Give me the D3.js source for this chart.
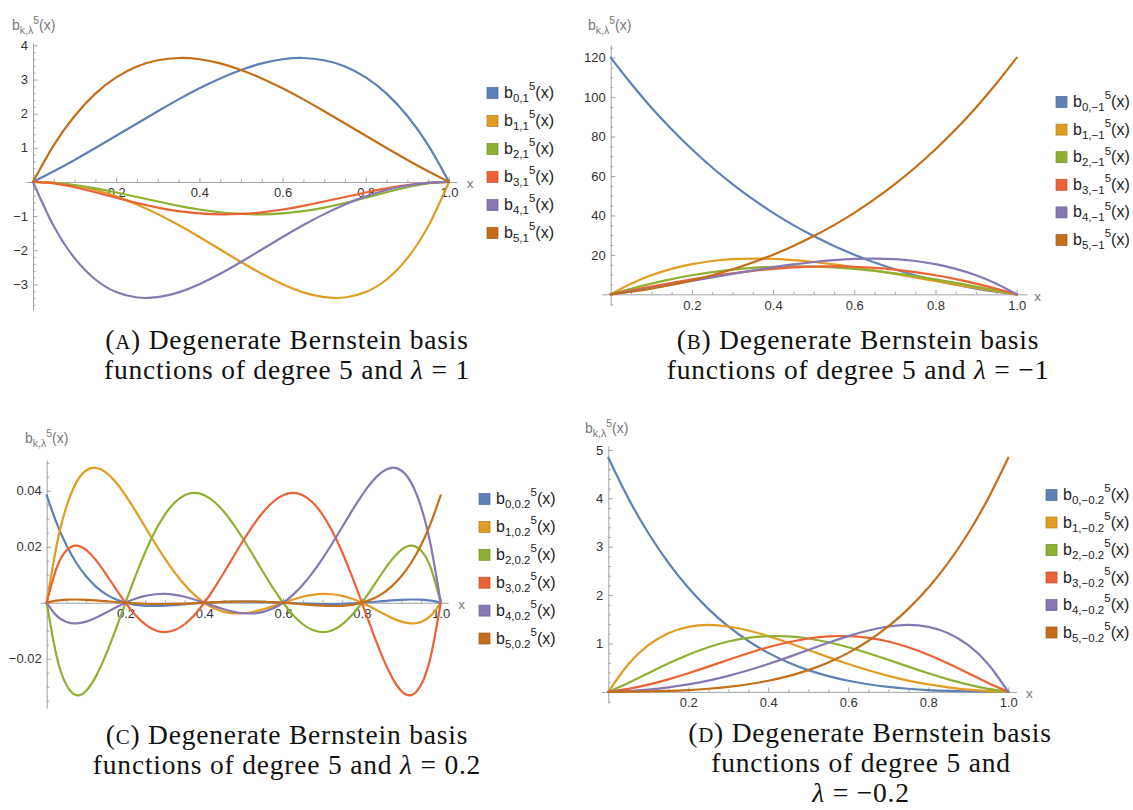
<!DOCTYPE html>
<html><head><meta charset="utf-8">
<script src="https://cdn.jsdelivr.net/npm/d3@7"></script>
<style>body{margin:0;background:#fff}svg{display:block}</style>
</head><body>
<svg id="chart" width="1133" height="810"></svg>
<script>
// ---------- data ----------
const X21 = [0,0.05,0.1,0.15,0.2,0.25,0.3,0.35,0.4,0.45,0.5,0.55,0.6,0.65,0.7,0.75,0.8,0.85,0.9,0.95,1];
const X41 = [0,0.025,0.05,0.075,0.1,0.125,0.15,0.175,0.2,0.225,0.25,0.275,0.3,0.325,0.35,0.375,0.4,0.425,0.45,0.475,0.5,0.525,0.55,0.575,0.6,0.625,0.65,0.675,0.7,0.725,0.75,0.775,0.8,0.825,0.85,0.875,0.9,0.925,0.95,0.975,1];

// (A) lambda = 1
const A_b0 = [0,0.312,0.6445,0.993,1.352,1.714,2.072,2.418,2.742,3.033,3.281,3.473,3.594,3.631,3.566,3.384,3.064,2.588,1.934,1.079,0];
const A_b1 = [0,-0.0256,-0.104,-0.236,-0.4224,-0.659,-0.942,-1.263,-1.613,-1.978,-2.344,-2.690,-2.995,-3.233,-3.374,-3.384,-3.226,-2.857,-2.232,-1.298,0];
const A_b2 = [0,-0.0237,-0.0891,-0.187,-0.3072,-0.439,-0.573,-0.699,-0.806,-0.888,-0.9375,-0.949,-0.922,-0.854,-0.750,-0.615,-0.461,-0.301,-0.154,-0.044,0];
const A_b3 = [0,-0.044,-0.154,-0.301,-0.461,-0.615,-0.750,-0.854,-0.922,-0.949,-0.9375,-0.888,-0.806,-0.699,-0.573,-0.439,-0.3072,-0.187,-0.0891,-0.0237,0];
const A_b4 = [0,-1.298,-2.232,-2.857,-3.226,-3.384,-3.374,-3.233,-2.995,-2.690,-2.344,-1.978,-1.613,-1.263,-0.942,-0.659,-0.4224,-0.236,-0.104,-0.0256,0];
const A_b5 = [0,1.079,1.934,2.588,3.064,3.384,3.566,3.631,3.594,3.473,3.281,3.033,2.742,2.418,2.072,1.714,1.352,0.993,0.6445,0.312,0];

// (B) lambda = -1
const B_b0 = [120,106.85,94.77,83.68,73.54,64.29,55.87,48.24,41.33,35.11,29.53,24.54,20.11,16.18,12.73,9.712,7.096,4.848,2.936,1.329,0];
const B_b1 = [0,5.397,9.670,12.941,15.322,16.919,17.832,18.154,17.971,17.364,16.406,15.167,13.709,12.089,10.360,8.569,6.758,4.965,3.223,1.559,0];
const B_b2 = [0,2.869,5.455,7.731,9.677,11.279,12.531,13.429,13.978,14.185,14.063,13.628,12.902,11.909,10.674,9.229,7.603,5.832,3.950,1.994,0];
const B_b3 = [0,1.994,3.950,5.832,7.603,9.229,10.674,11.909,12.902,13.628,14.063,14.185,13.978,13.429,12.531,11.279,9.677,7.731,5.455,2.869,0];
const B_b4 = [0,1.559,3.223,4.965,6.758,8.569,10.360,12.089,13.709,15.167,16.406,17.364,17.971,18.154,17.832,16.919,15.322,12.941,9.670,5.397,0];
const B_b5 = [0,1.329,2.936,4.848,7.096,9.712,12.73,16.18,20.11,24.54,29.53,35.11,41.33,48.24,55.87,64.29,73.54,83.68,94.77,106.85,120];

// (C) lambda = 0.2
const C_b0 = [0.0384,0.028513,0.020573,0.014303,0.00945,0.005786,0.003108,0.001233,0,-0.000731,-0.001083,-0.001160,-0.00105,-0.000827,-0.000548,-0.000261,0,0.000212,0.000361,0.000440,0.00045,0.000398,0.000295,0.000157,0,-0.000157,-0.000295,-0.000398,-0.00045,-0.000440,-0.000361,-0.000212,0,0.000261,0.000548,0.000827,0.00105,0.001160,0.001083,0.000731,0];
const C_b1 = [0,0.020366,0.034289,0.042910,0.04725,0.048219,0.046617,0.043143,0.0384,0.032900,0.027070,0.021261,0.01575,0.010746,0.006398,0.002802,0,-0.002005,-0.003248,-0.003799,-0.00375,-0.003215,-0.002320,-0.001203,0,0.001154,0.002133,0.002828,0.00315,0.003037,0.002461,0.001430,0,-0.001726,-0.003586,-0.005358,-0.00675,-0.007398,-0.006858,-0.004599,0];
const C_b2 = [0,-0.019009,-0.029391,-0.033007,-0.0315,-0.026301,-0.018647,-0.009587,0,0.009400,0.018047,0.025514,0.0315,0.035820,0.038391,0.039221,0.0384,0.036084,0.032484,0.027860,0.0225,0.016716,0.010828,0.005155,0,-0.004358,-0.007678,-0.009769,-0.0105,-0.009813,-0.007734,-0.004387,0,0.005076,0.010359,0.015227,0.0189,0.020433,0.018703,0.012397,0];
const C_b3 = [0,0.012397,0.018703,0.020433,0.0189,0.015227,0.010359,0.005076,0,-0.004387,-0.007734,-0.009813,-0.0105,-0.009769,-0.007678,-0.004358,0,0.005155,0.010828,0.016716,0.0225,0.027860,0.032484,0.036084,0.0384,0.039221,0.038391,0.035820,0.0315,0.025514,0.018047,0.009400,0,-0.009587,-0.018647,-0.026301,-0.0315,-0.033007,-0.029391,-0.019009,0];
const C_b4 = [0,-0.004599,-0.006858,-0.007398,-0.00675,-0.005358,-0.003586,-0.001726,0,0.001430,0.002461,0.003037,0.00315,0.002828,0.002133,0.001154,0,-0.001203,-0.002320,-0.003215,-0.00375,-0.003799,-0.003248,-0.002005,0,0.002802,0.006398,0.010746,0.01575,0.021261,0.027070,0.032900,0.0384,0.043143,0.046617,0.048219,0.04725,0.042910,0.034289,0.020366,0];
const C_b5 = [0,0.000731,0.001083,0.001160,0.00105,0.000827,0.000548,0.000261,0,-0.000212,-0.000361,-0.000440,-0.00045,-0.000398,-0.000295,-0.000157,0,0.000157,0.000295,0.000398,0.00045,0.000440,0.000361,0.000212,0,-0.000261,-0.000548,-0.000827,-0.00105,-0.001160,-0.001083,-0.000731,0,0.001233,0.003108,0.005786,0.00945,0.014303,0.020573,0.028513,0.0384];

// (D) lambda = -0.2
const D_b0 = [4.838,4.001,3.282,2.669,2.150,1.715,1.351,1.051,0.806,0.608,0.450,0.326,0.230,0.158,0.104,0.065,0.038,0.021,0.009,0.003,0];
const D_b1 = [0,0.572,0.965,1.213,1.344,1.383,1.351,1.269,1.152,1.014,0.866,0.718,0.576,0.446,0.331,0.233,0.154,0.092,0.047,0.017,0];
const D_b2 = [0,0.184,0.386,0.586,0.768,0.922,1.040,1.117,1.152,1.146,1.103,1.026,0.922,0.798,0.662,0.521,0.384,0.258,0.149,0.061,0];
const D_b3 = [0,0.061,0.149,0.258,0.384,0.521,0.662,0.798,0.922,1.026,1.103,1.146,1.152,1.117,1.040,0.922,0.768,0.586,0.386,0.184,0];
const D_b4 = [0,0.017,0.047,0.092,0.154,0.233,0.331,0.446,0.576,0.718,0.866,1.014,1.152,1.269,1.351,1.383,1.344,1.213,0.965,0.572,0];
const D_b5 = [0,0.003,0.009,0.021,0.038,0.065,0.104,0.158,0.230,0.326,0.450,0.608,0.806,1.051,1.351,1.715,2.150,2.669,3.282,4.001,4.838];

// tick labels / legend text
const xTicks = [0.2,0.4,0.6,0.8,1.0];
const yTicksA = [-3,-2,-1,1,2,3,4];
const yTicksB = [20,40,60,80,100,120];
const yTicksC = [-0.02,0.02,0.04];
const yTicksD = [1,2,3,4,5];
const lamA = "1", lamB = "\u22121", lamC = "0.2", lamD = "\u22120.2";
const captionA = ["A", "Degenerate Bernstein basis", "functions of degree 5 and ", "\u03bb", " = 1"];
const captionB = ["B", "Degenerate Bernstein basis", "functions of degree 5 and ", "\u03bb", " = \u22121"];
const captionC = ["C", "Degenerate Bernstein basis", "functions of degree 5 and ", "\u03bb", " = 0.2"];
const captionD = ["D", "Degenerate Bernstein basis", "functions of degree 5 and", "\u03bb", " = \u22120.2"];

const colors = ["#5E81B5","#E19C24","#8FB032","#EB6235","#8778B3","#C56E1A"];

// ---------- layout ----------
const SANS = "'Liberation Sans', Arial, Helvetica, sans-serif";
const SERIF = "'Liberation Serif', 'Times New Roman', serif";
const panels = [
  {xs:X21, series:[A_b0,A_b1,A_b2,A_b3,A_b4,A_b5], lam:lamA, yTicks:yTicksA, yMinor:0.2,
   px:[33,449], xExt:[-0.017,1.019], yDom:[-3.75,4.07], yRng:[310,43],
   leg:{x:487,y:93,dy:28}, ylab:{x:12,y:30}, cap:{x:287,x1:287,y:349,txt:captionA}},
  {xs:X21, series:[B_b0,B_b1,B_b2,B_b3,B_b4,B_b5], lam:lamB, yTicks:yTicksB, yMinor:5,
   px:[610.7,1016.7], xExt:[-0.022,1.025], yDom:[-5.4,126.4], yRng:[305,45],
   leg:{x:1056,y:102,dy:27.6}, ylab:{x:588,y:30}, cap:{x:858,x1:858,y:349,txt:captionB}},
  {xs:X41, series:[C_b0,C_b1,C_b2,C_b3,C_b4,C_b5], lam:lamC, yTicks:yTicksC, yMinor:0.005,
   px:[46.7,440.7], xExt:[-0.017,1.019], yDom:[-0.0376,0.051], yRng:[708,460],
   leg:{x:479,y:499,dy:27.9}, ylab:{x:25,y:443}, cap:{x:287,x1:287,y:744,txt:captionC}},
  {xs:X21, series:[D_b0,D_b1,D_b2,D_b3,D_b4,D_b5], lam:lamD, yTicks:yTicksD, yMinor:0.2,
   px:[608.3,1008.3], xExt:[-0.017,1.021], yDom:[-0.23,5.08], yRng:[703,446],
   leg:{x:1046,y:495,dy:27.5}, ylab:{x:585,y:433}, cap:{x:861,x1:870,y:742,txt:captionD}}
];

const svg = d3.select("#chart");
svg.append("rect").attr("width",1133).attr("height",810).attr("fill","#fff");

const fmtY = d => (d < 0 ? "\u2212" + Math.abs(d) : String(d));
const AXIS_COLOR = "#a3a3a3";

function bLabel(g, x, y, sub, size, color) {
  const t = g.append("text").attr("x", x).attr("y", y)
    .attr("font-family", SANS).attr("font-size", size).attr("fill", color);
  t.append("tspan").text("b");
  t.append("tspan").attr("font-size", size*0.72).attr("dy", size*0.25).text(sub);
  t.append("tspan").attr("font-size", size*0.72).attr("dy", -size*0.72).text("5");
  t.append("tspan").attr("dy", size*0.47).text("(x)");
  return t;
}

function minorValues(lo, hi, step, exclude) {
  const out = [];
  for (let i = Math.ceil(lo/step - 1e-9); i*step <= hi + 1e-12; i++) {
    const v = +(i*step).toFixed(6);
    if (Math.abs(v) < 1e-12) continue;
    if (exclude.some(e => Math.abs(e - v) < step*1e-3)) continue;
    out.push(v);
  }
  return out;
}

panels.forEach(p => {
  const g = svg.append("g");
  const x = d3.scaleLinear().domain([0,1]).range(p.px);
  const xa = x.copy().domain(p.xExt).range(p.xExt.map(x));
  const y = d3.scaleLinear().domain(p.yDom).range(p.yRng);
  const y0 = y(0), x0 = x(0);

  // x axis (ticks pointing up)
  const gx = g.append("g").attr("transform", `translate(0,${y0})`);
  gx.call(d3.axisBottom(xa).tickValues(xTicks).tickSizeInner(-4.5).tickSizeOuter(0)
      .tickPadding(6).tickFormat(d3.format(".1f")));
  const xMinor = minorValues(0, p.xExt[1], 0.05, xTicks);
  const gxm = g.append("g").attr("transform", `translate(0,${y0})`);
  gxm.call(d3.axisBottom(xa).tickValues(xMinor).tickSizeInner(-2.5).tickSizeOuter(0).tickFormat(""));
  gxm.select(".domain").remove();

  // y axis (ticks pointing right)
  const gy = g.append("g").attr("transform", `translate(${x0},0)`);
  gy.call(d3.axisLeft(y).tickValues(p.yTicks).tickSizeInner(-4.5).tickSizeOuter(0)
      .tickPadding(5).tickFormat(fmtY));
  const yMinor = minorValues(p.yDom[0], p.yDom[1], p.yMinor, p.yTicks);
  const gym = g.append("g").attr("transform", `translate(${x0},0)`);
  gym.call(d3.axisLeft(y).tickValues(yMinor).tickSizeInner(-2.5).tickSizeOuter(0).tickFormat(""));
  gym.select(".domain").remove();

  [gx, gxm, gy, gym].forEach(a => {
    a.attr("font-family", SANS).attr("font-size", 13);
    a.selectAll("line,path").attr("stroke", AXIS_COLOR);
    a.selectAll("text").attr("fill", "#333");
  });

  // axis labels
  g.append("text").attr("x", x(1) + 21).attr("y", y0 + 2).attr("dy", "0.32em")
    .attr("text-anchor", "middle").attr("font-family", SANS).attr("font-size", 13.5)
    .attr("fill", "#777").text("x");
  const yl = g.append("text").attr("x", p.ylab.x).attr("y", p.ylab.y)
    .attr("font-family", SANS).attr("font-size", 14).attr("fill", "#777");
  yl.append("tspan").text("b");
  yl.append("tspan").attr("font-size", 10.5).attr("dy", 3.5).text("k,\u03bb");
  yl.append("tspan").attr("font-size", 10.5).attr("dy", -10).text("5");
  yl.append("tspan").attr("dy", 6.5).text("(x)");

  // curves
  const line = d3.line().x((d,i) => x(p.xs[i])).y(d => y(d)).curve(d3.curveNatural);
  p.series.forEach((s, k) => {
    g.append("path").attr("d", line(s)).attr("fill", "none")
      .attr("stroke", colors[k]).attr("stroke-width", 2.2)
      .attr("stroke-linejoin", "round").attr("stroke-linecap", "round");
  });

  // legend
  p.series.forEach((s, k) => {
    const cy = p.leg.y + k*p.leg.dy;
    g.append("rect").attr("x", p.leg.x).attr("y", cy - 5.5).attr("width", 11).attr("height", 11)
      .attr("fill", colors[k]).attr("stroke", d3.color(colors[k]).darker(0.6)).attr("stroke-width", 0.7);
    bLabel(g, p.leg.x + 17, cy + 5, k + "," + p.lam, 16, "#222");
  });

  // caption
  const c = p.cap.txt, fs = 27.5, ls = 0.8;
  const cap = (xx, yy) => g.append("text").attr("x", xx).attr("y", yy).attr("text-anchor", "middle")
    .attr("font-family", SERIF).attr("font-size", fs).attr("letter-spacing", ls).attr("fill", "#111");
  const t1 = cap(p.cap.x1, p.cap.y);
  t1.append("tspan").text("(");
  t1.append("tspan").attr("font-size", fs*0.76).text(c[0]);
  t1.append("tspan").text(") " + c[1]);
  if (c[2].endsWith(" ")) {
    const t2 = cap(p.cap.x, p.cap.y + 29.5);
    t2.append("tspan").text(c[2]);
    t2.append("tspan").attr("font-style", "italic").text(c[3]);
    t2.append("tspan").text(c[4]);
  } else {
    cap(p.cap.x, p.cap.y + 30).text(c[2]);
    const t3 = cap(p.cap.x, p.cap.y + 60);
    t3.append("tspan").attr("font-style", "italic").text(c[3]);
    t3.append("tspan").text(c[4]);
  }
});
</script>
</body></html>
